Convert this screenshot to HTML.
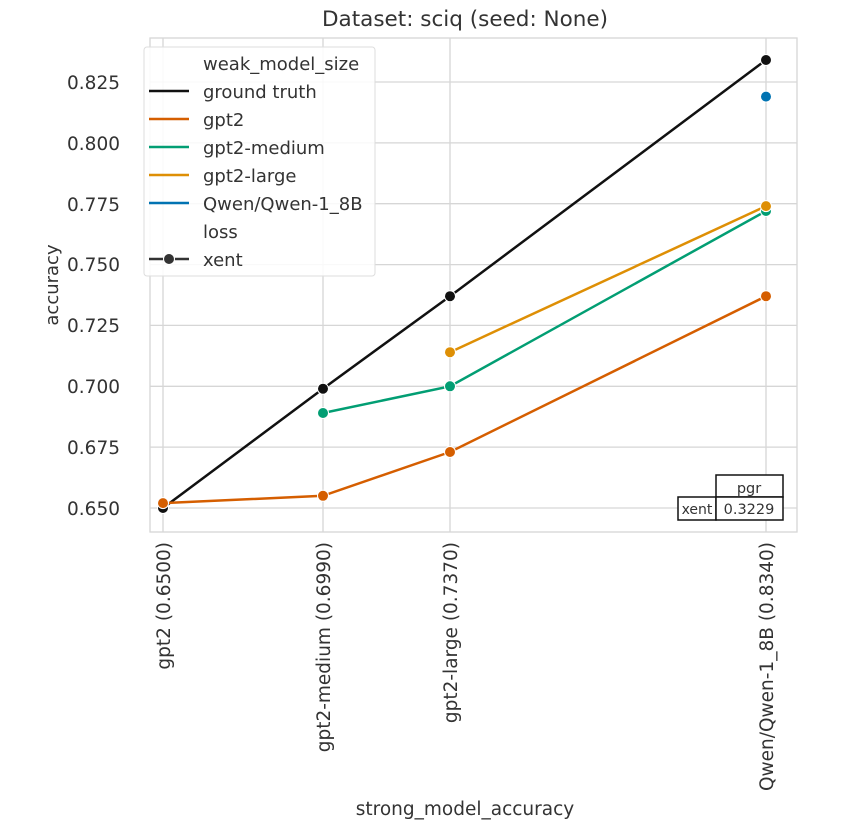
<!DOCTYPE html>
<html><head><meta charset="utf-8"><style>
html,body{margin:0;padding:0;background:#fff;}
svg text{font-family:"DejaVu Sans","Liberation Sans",sans-serif;fill:#333;}
</style></head><body>
<svg width="844" height="834" viewBox="0 0 844 834" xmlns="http://www.w3.org/2000/svg">
<rect width="844" height="834" fill="#fff"/>
<g stroke="#d6d6d6" stroke-width="1.3">
<line x1="150" x2="797" y1="508" y2="508"/>
<line x1="150" x2="797" y1="447.1" y2="447.1"/>
<line x1="150" x2="797" y1="386.3" y2="386.3"/>
<line x1="150" x2="797" y1="325.4" y2="325.4"/>
<line x1="150" x2="797" y1="264.6" y2="264.6"/>
<line x1="150" x2="797" y1="203.7" y2="203.7"/>
<line x1="150" x2="797" y1="142.9" y2="142.9"/>
<line x1="150" x2="797" y1="82" y2="82"/>
<line x1="163" x2="163" y1="38" y2="532"/>
<line x1="323" x2="323" y1="38" y2="532"/>
<line x1="450" x2="450" y1="38" y2="532"/>
<line x1="766" x2="766" y1="38" y2="532"/>
</g>
<rect x="150" y="38" width="647" height="494" fill="none" stroke="#d6d6d6" stroke-width="1.3"/>
<text x="465" y="26" font-size="21.5" text-anchor="middle">Dataset: sciq (seed: None)</text>
<g font-size="18.5" text-anchor="end">
<text x="120" y="515">0.650</text><text x="120" y="454">0.675</text><text x="120" y="393">0.700</text>
<text x="120" y="332">0.725</text><text x="120" y="271">0.750</text><text x="120" y="211">0.775</text>
<text x="120" y="150">0.800</text><text x="120" y="89">0.825</text>
</g>
<text transform="translate(58,285) rotate(-90)" font-size="18" text-anchor="middle">accuracy</text>
<g font-size="18.5" text-anchor="end">
<text transform="translate(170,542) rotate(-90)">gpt2 (0.6500)</text>
<text transform="translate(330,542) rotate(-90)">gpt2-medium (0.6990)</text>
<text transform="translate(457,542) rotate(-90)">gpt2-large (0.7370)</text>
<text transform="translate(773,542) rotate(-90)">Qwen/Qwen-1_8B (0.8340)</text>
</g>
<text x="465" y="815" font-size="18.5" text-anchor="middle">strong_model_accuracy</text>
<g fill="none" stroke-width="2.5">
<polyline stroke="#111" points="163,508 323,388.7 450,296.2 766,60"/>
<polyline stroke="#d55e00" points="163,503.1 323,495.8 450,452 766,296.2"/>
<polyline stroke="#029e73" points="323,413 450,386.3 766,211"/>
<polyline stroke="#de8f05" points="450,352.2 766,206.1"/>
</g>
<g stroke="#fff" stroke-width="1">
<circle cx="163" cy="508" r="5.5" fill="#111"/><circle cx="323" cy="388.7" r="5.5" fill="#111"/>
<circle cx="450" cy="296.2" r="5.5" fill="#111"/><circle cx="766" cy="60" r="5.5" fill="#111"/>
<circle cx="163" cy="503.1" r="5.5" fill="#d55e00"/><circle cx="323" cy="495.8" r="5.5" fill="#d55e00"/>
<circle cx="450" cy="452" r="5.5" fill="#d55e00"/><circle cx="766" cy="296.2" r="5.5" fill="#d55e00"/>
<circle cx="323" cy="413" r="5.5" fill="#029e73"/><circle cx="450" cy="386.3" r="5.5" fill="#029e73"/>
<circle cx="766" cy="211" r="5.5" fill="#029e73"/>
<circle cx="450" cy="352.2" r="5.5" fill="#de8f05"/><circle cx="766" cy="206.1" r="5.5" fill="#de8f05"/>
<circle cx="766" cy="96.6" r="5.5" fill="#0173b2"/>
</g>
<rect x="144" y="47" width="231" height="229" rx="3" fill="#fff" fill-opacity="0.85" stroke="#ddd"/>
<g font-size="18">
<text x="203" y="70">weak_model_size</text>
<text x="203" y="98">ground truth</text>
<text x="203" y="126">gpt2</text>
<text x="203" y="154">gpt2-medium</text>
<text x="203" y="182">gpt2-large</text>
<text x="203" y="210">Qwen/Qwen-1_8B</text>
<text x="203" y="238">loss</text>
<text x="203" y="266">xent</text>
</g>
<g stroke-width="2.5">
<line x1="149" x2="189" y1="91" y2="91" stroke="#111"/>
<line x1="149" x2="189" y1="119" y2="119" stroke="#d55e00"/>
<line x1="149" x2="189" y1="147" y2="147" stroke="#029e73"/>
<line x1="149" x2="189" y1="175" y2="175" stroke="#de8f05"/>
<line x1="149" x2="189" y1="203" y2="203" stroke="#0173b2"/>
<line x1="149" x2="189" y1="259" y2="259" stroke="#333"/>
</g>
<circle cx="169" cy="259" r="5.5" fill="#333" stroke="#fff"/>
<g fill="#fff" stroke="#111" stroke-width="1.5">
<rect x="716" y="475" width="67" height="22"/>
<rect x="678" y="497" width="38" height="23"/>
<rect x="716" y="497" width="67" height="23"/>
</g>
<text x="749" y="493" font-size="14.5" text-anchor="middle">pgr</text>
<text x="697" y="514" font-size="14" text-anchor="middle">xent</text>
<text x="749" y="514" font-size="14.5" text-anchor="middle">0.3229</text>
</svg>
</body></html>
